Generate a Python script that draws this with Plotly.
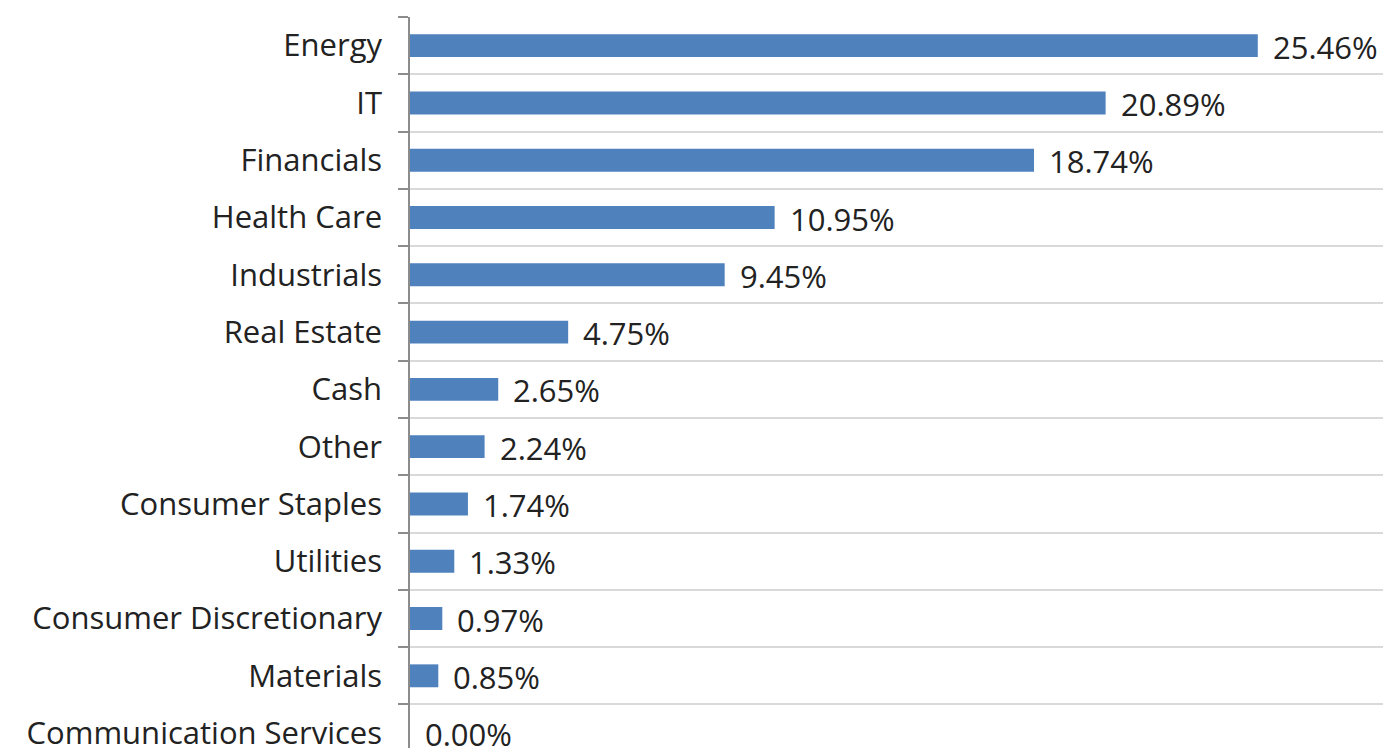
import plotly.graph_objects as go

categories = ["Energy", "IT", "Financials", "Health Care", "Industrials", "Real Estate",
              "Cash", "Other", "Consumer Staples", "Utilities", "Consumer Discretionary",
              "Materials", "Communication Services"]
values = [25.46, 20.89, 18.74, 10.95, 9.45, 4.75, 2.65, 2.24, 1.74, 1.33, 0.97, 0.85, 0.00]
labels = [f"{v:.2f}%" for v in values]

FONT = "Open Sans"
FS = 31
fig = go.Figure()
fig.add_trace(go.Bar(
    x=values, y=categories, orientation="h", width=0.4,
    marker=dict(color="#4F81BD", line=dict(width=0)),
    hoverinfo="skip",
))
for c, v, t in zip(categories, values, labels):
    fig.add_annotation(x=v, y=c, text=t, showarrow=False, xanchor="left", yanchor="middle",
                       xshift=13, yshift=-1, font=dict(family=FONT, size=FS, color="#222222"))

fig.update_layout(
    width=1383, height=740,
    margin=dict(l=402, r=0, t=9, b=0, autoexpand=False),
    plot_bgcolor="white", paper_bgcolor="white",
    showlegend=False, bargap=0.6,
    font=dict(family=FONT, size=FS, color="#222222"),
)
fig.update_xaxes(range=[0, 29.46], showgrid=False, showticklabels=False, zeroline=False,
                 showline=False, ticks="", automargin=False)
fig.update_yaxes(categoryorder="array", categoryarray=categories,
                 range=[12.26, -0.5], tickson="boundaries", showgrid=True, automargin=False,
                 gridcolor="#d9d9d9", gridwidth=1.5, showline=True, linecolor="#8c8c8c",
                 linewidth=1.5, ticks="outside", ticklen=10, tickcolor="#8c8c8c", tickwidth=1.5,
                 ticklabelstandoff=20, tickfont=dict(family=FONT, size=FS, color="#222222"))

fig.write_html("out.html")
